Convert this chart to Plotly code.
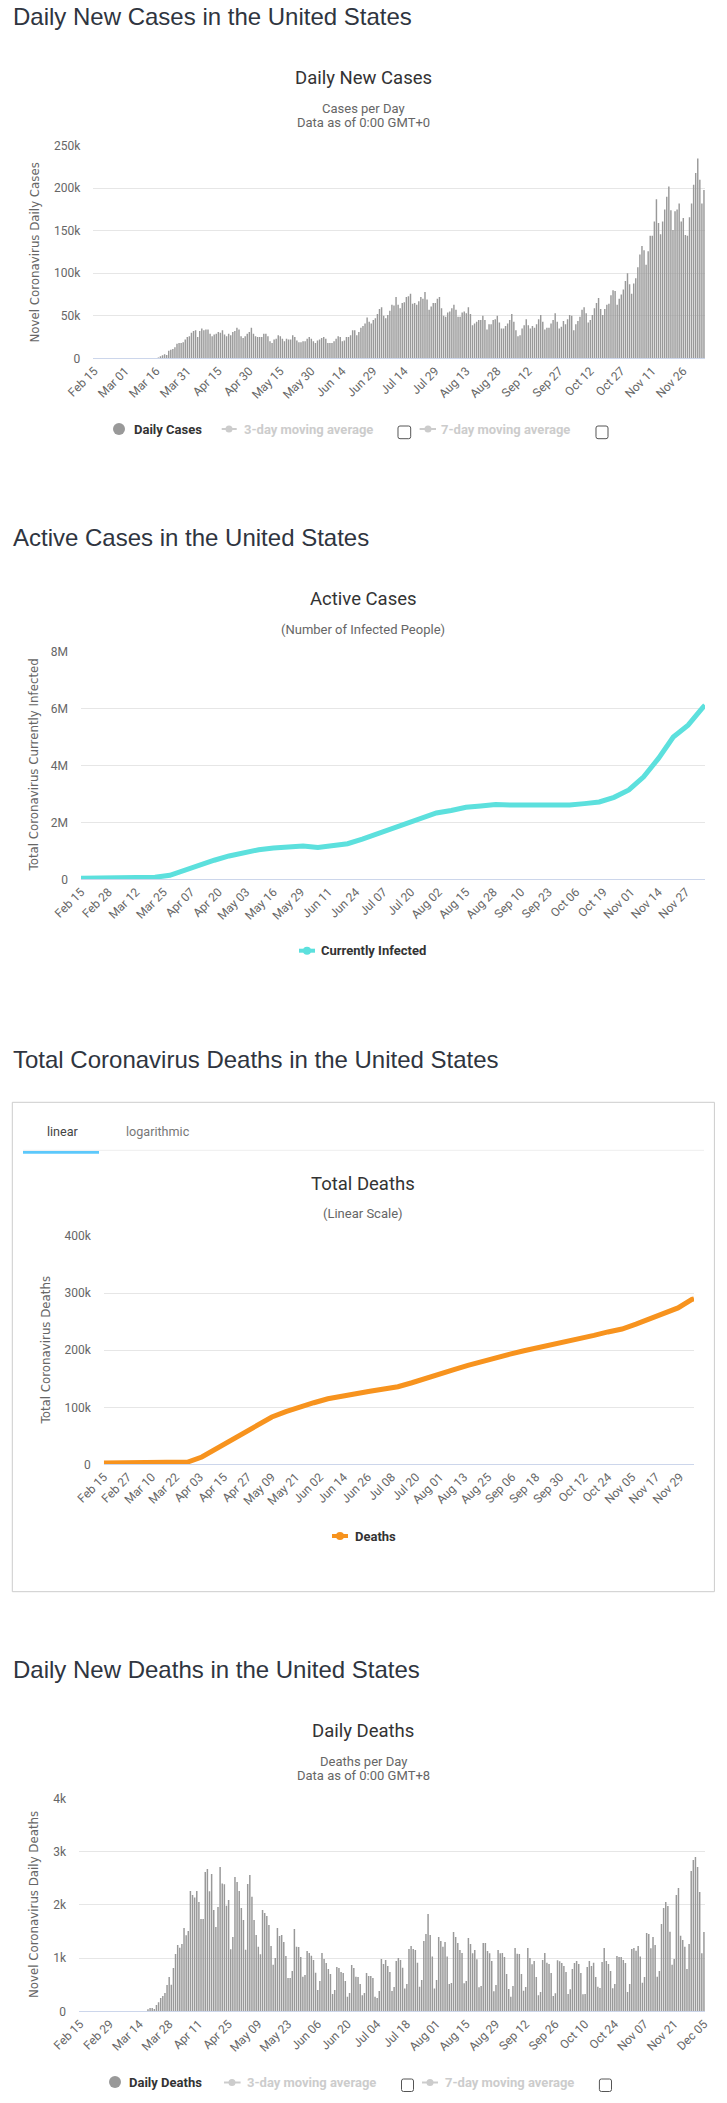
import pandas as pd

import plotly.graph_objects as go

WIDTH = 727
HEIGHT = 2103
START = "2020-02-15"

GRID = "#e6e6e6"
BASE = "#ccd6eb"
TICK = "#666666"
# alpha just under 1 makes plotly round the bar edges instead of widening thin bars
BAR = "rgba(153,153,153,0.999)"
MUTED = "#cccccc"
TITLE = "#333333"
HEAD = "#2f3540"
TURQ = "#5ce0dd"
ORANGE = "#f7931e"
TAB = "#5cc8fb"

# daily new cases, thousands, one value per day from Feb 15
daily_cases = [0] * 31 + [
    1, 2.3, 3.5, 4.7, 4, 9, 10, 11, 13, 17,
    18, 18, 19, 22, 25, 26, 30, 32, 33, 25,
    32, 35, 33, 34, 34, 29, 26, 28, 29, 31,
    30, 33, 28, 26, 29, 27, 31, 32, 36, 34,
    26, 24, 26, 29, 31, 36, 29, 26, 25, 25,
    25, 29, 29, 26, 20, 18, 22, 23, 27, 26,
    23, 20, 23, 22, 22, 27, 25, 21, 19, 19,
    20, 20, 23, 25, 23, 20, 18, 21, 22, 24,
    25, 23, 18, 18, 18, 20, 23, 26, 25, 20,
    21, 25, 25, 27, 33, 33, 27, 31, 36, 38,
    41, 48, 43, 41, 45, 47, 52, 58, 60, 50,
    47, 51, 56, 63, 62,
    72, 63, 59, 65, 66, 72, 73, 76, 64, 65,
    63, 67, 72, 70, 78, 69, 57, 61, 65, 65,
    70, 72, 59, 50, 49, 54, 55, 59, 63, 57,
    49, 49, 54, 55, 53, 60, 52, 39, 41, 43,
    45, 45, 50, 45, 34, 40, 40, 45, 46, 50,
    42, 35, 35, 38, 41, 45, 52, 43, 33, 26,
    27, 35, 39, 46, 39, 35, 38, 36, 40, 46,
    51, 43, 34, 36, 36, 41, 45, 53, 43, 35,
    37, 44, 40, 46, 51, 50, 33, 40, 44, 49,
    57, 60, 53, 42, 45, 51, 59, 65, 71, 58,
    51, 58, 63, 64, 74, 80, 79, 63, 70, 75,
    81, 91, 100, 87, 76, 88, 94, 107, 122, 132,
    127, 110, 126, 144, 144, 161, 187, 159, 146, 161,
    175, 190, 202, 174, 151, 173, 175, 182, 161,
    165, 145, 144, 166, 182, 204, 218, 235, 210, 182, 198,
]

# daily deaths, one value per day from Feb 15
daily_deaths = [0] * 32 + [
    38, 63, 63, 44, 119, 170, 250, 288,
    344, 494, 645, 500, 813, 1076, 1245, 1195, 1264, 1564,
    1430, 1508, 2260, 2186, 2135, 2260, 2053, 1734, 1734, 2616,
    2673, 2254, 2578, 1903, 1584, 1959, 2710, 2398, 2385, 1984,
    2091, 1164, 1396, 2523, 2429, 2260, 1941, 1715, 1158, 2391,
    2560, 2153, 1715, 1434, 1214, 1070, 1903, 1847, 1790, 1621,
    1227, 876, 1002, 1565, 1415, 1434, 1302, 1039, 626, 626,
    757, 1546, 1214, 1208, 1020, 651, 682, 1133, 1095, 1045,
    964, 726, 400, 570, 1095, 983, 908, 795, 701, 325,
    400, 832, 814, 739, 720, 570, 275, 344, 870, 814,
    651, 645, 513, 300, 344, 720, 664, 664, 626, 275,
    250, 382, 983, 889, 964, 851, 739, 382, 457, 945, 1002,
    964, 820, 426, 513, 1171, 1227, 1171, 1152, 914, 463,
    588, 1321, 1452, 1828, 1434, 1027, 426, 588, 1396, 1321,
    1214, 1302, 1027, 513, 532, 1490, 1396, 1283, 1152, 1095,
    526, 570, 1377, 1264, 1089, 1152, 977, 450, 476, 1283,
    1283, 1133, 1089, 945, 376, 495, 1152, 1089, 1095, 1020,
    701, 419, 275, 476, 1189, 1083, 1077, 701, 388, 457,
    1189, 1002, 883, 945, 645, 300, 363, 964, 1095, 914,
    889, 720, 288, 338, 958, 939, 908, 851, 739, 325,
    413, 795, 908, 945, 889, 720, 319, 325, 832, 945,
    851, 914, 645, 463, 438, 926, 1189, 945, 889, 757,
    432, 513, 1039, 1020, 1020, 964, 908, 363, 513, 1171,
    1189, 1139, 1227, 1027, 538, 645, 1471, 1452, 1183, 1396,
    1246, 651, 757, 1640, 1941, 2053, 1978, 1496, 876, 983,
    2185, 2316, 1421, 1340, 1214, 795, 1264, 2635, 2842, 2898,
    2710, 2241, 1089, 1490,
]

# weekly readings from Feb 15, last one is Dec 06
active_cases = [
    0.04, 0.04, 0.04, 0.04, 0.04, 0.07, 0.14, 0.33, 0.52, 0.67,
    0.82, 0.95, 1.04, 1.10, 1.15, 1.17, 1.12, 1.17, 1.25, 1.41,
    1.59, 1.79, 1.98, 2.17, 2.33, 2.42, 2.53, 2.58, 2.63, 2.61,
    2.61, 2.61, 2.60, 2.61, 2.66, 2.72, 2.88, 3.14, 3.60, 4.25,
    5.00, 5.42, 6.04, 6.12,
]
total_deaths = [
    2.5, 2.5, 2.5, 2.5, 2.5, 2.5, 4, 13, 27, 43,
    57, 70, 83, 92.5, 101, 108, 115, 120, 124, 128,
    132, 136, 143, 150, 159, 166, 173.5, 180.5, 187.5, 193,
    199, 204, 210, 215, 219.5, 226, 232, 237, 245.6, 254.5,
    265, 274, 289, 290,
]

cases_ticks = [0, 50, 100, 150, 200, 250]
cases_ticktext = ["0", "50k", "100k", "150k", "200k", "250k"]
active_ticks = [0, 2, 4, 6, 8]
active_ticktext = ["0", "2M", "4M", "6M", "8M"]
total_ticks = [0, 100, 200, 300, 400]
total_ticktext = ["0", "100k", "200k", "300k", "400k"]
deaths_ticks = [0, 1000, 2000, 3000, 4000]
deaths_ticktext = ["0", "1k", "2k", "3k", "4k"]

cases_days = pd.date_range(START, periods=len(daily_cases)).strftime("%b %d").tolist()
deaths_days = pd.date_range(START, periods=len(daily_deaths)).strftime("%b %d").tolist()
weekly_days = pd.date_range(START, periods=43, freq="7D").strftime("%Y-%m-%d").tolist() + ["2020-12-06"]


def px(x):
    return x / WIDTH


def py(y):
    return 1 - y / HEIGHT


def x_axis(left, right, anchor, **kwargs):
    return dict(domain=[px(left), px(right)], anchor=anchor, automargin=False, showgrid=False, zeroline=False,
                showline=True, linecolor=BASE, ticks="", tickangle=-45,
                tickfont=dict(family="Roboto", size=12, color=TICK), **kwargs)


def y_axis(top, bottom, anchor, ymax, ticks, ticktext):
    return dict(domain=[py(bottom), py(top)], anchor=anchor, automargin=False, range=[0, ymax], showgrid=True,
                gridcolor=GRID, zeroline=False, showline=False, ticks="", tickmode="array",
                tickvals=ticks, ticktext=ticktext, ticklabelstandoff=12,
                tickfont=dict(family="Roboto", size=12, color=TICK))


def text(x, y, s, size=13, color=TICK, family="Roboto", anchor="center", bold=False, angle=0):
    return dict(xref="paper", yref="paper", x=px(x), y=py(y), xanchor=anchor, yanchor="middle",
                text="<b>%s</b>" % s if bold else s, showarrow=False, textangle=angle,
                font=dict(family=family, size=size, color=color))


def rule(x0, y0, x1, y1, color, width=1):
    return dict(type="line", xref="paper", yref="paper", x0=px(x0), y0=py(y0), x1=px(x1), y1=py(y1),
                line=dict(color=color, width=width))


def dot(x, y, r, color):
    return dict(type="circle", xref="paper", yref="paper", x0=px(x - r), x1=px(x + r),
                y0=py(y - r), y1=py(y + r), fillcolor=color, line=dict(width=0))


def box(x0, y0, x1, y1, color, width=1, fill=None):
    return dict(type="rect", xref="paper", yref="paper", x0=px(x0), x1=px(x1), y0=py(y0), y1=py(y1),
                fillcolor=fill, line=dict(color=color, width=width))


def checkbox(x0, y0, x1, y1, r=2):
    # the unticked boxes next to the moving averages, rounded corners
    l, rt, t, b = px(x0), px(x1), py(y0), py(y1)
    rx, ry = r / WIDTH, r / HEIGHT
    path = "M %f %f L %f %f Q %f %f %f %f L %f %f Q %f %f %f %f L %f %f Q %f %f %f %f L %f %f Q %f %f %f %f Z" % (
        l + rx, t, rt - rx, t, rt, t, rt, t - ry, rt, b + ry, rt, b, rt - rx, b,
        l + rx, b, l, b, l, b + ry, l, t - ry, l, t, l + rx, t)
    return dict(type="path", xref="paper", yref="paper", path=path, line=dict(color="#555555", width=1))


annotations = [
    text(11, 16.7, "Daily New Cases in the United States", 24, HEAD, "Liberation Sans", "left"),
    text(363, 77.7, "Daily New Cases", 18.5, TITLE),
    text(363, 108, "Cases per Day"),
    text(363, 122.7, "Data as of 0:00 GMT+0"),
    text(34, 252.5, "Novel Coronavirus Daily Cases", 11.8, TICK, "DejaVu Sans", angle=-90),
    text(132, 429.5, "Daily Cases", 13, TITLE, bold=True, anchor="left"),
    text(242, 429.5, "3-day moving average", 13, MUTED, bold=True, anchor="left"),
    text(439.4, 429.5, "7-day moving average", 13, MUTED, bold=True, anchor="left"),

    text(11, 537.3, "Active Cases in the United States", 24, HEAD, "Liberation Sans", "left"),
    text(363, 598.7, "Active Cases", 18.5, TITLE),
    text(363, 629, "(Number of Infected People)"),
    text(34, 765.5, "Total Coronavirus Currently Infected", 11.8, TICK, "DejaVu Sans", angle=-90),
    text(319, 950.7, "Currently Infected", 13, TITLE, bold=True, anchor="left"),

    text(11, 1059, "Total Coronavirus Deaths in the United States", 24, HEAD, "Liberation Sans", "left"),
    text(63, 1131.3, "linear", 12.6, "#444444"),
    text(158, 1131.3, "logarithmic", 12.6, "#777777"),
    text(363, 1183.6, "Total Deaths", 18.5, TITLE),
    text(363, 1213.8, "(Linear Scale)"),
    text(45, 1350.5, "Total Coronavirus Deaths", 11.8, TICK, "DejaVu Sans", angle=-90),
    text(352.7, 1536, "Deaths", 13, TITLE, bold=True, anchor="left"),

    text(11, 1669, "Daily New Deaths in the United States", 24, HEAD, "Liberation Sans", "left"),
    text(363, 1730.7, "Daily Deaths", 18.5, TITLE),
    text(363, 1761, "Deaths per Day"),
    text(363, 1775.7, "Data as of 0:00 GMT+8"),
    text(34, 1905, "Novel Coronavirus Daily Deaths", 11.8, TICK, "DejaVu Sans", angle=-90),
    text(127.4, 2082.7, "Daily Deaths", 13, TITLE, bold=True, anchor="left"),
    text(245, 2082.7, "3-day moving average", 13, MUTED, bold=True, anchor="left"),
    text(442.7, 2082.7, "7-day moving average", 13, MUTED, bold=True, anchor="left"),
]

shapes = [
    # card and tabs around the total deaths chart
    box(12.3, 1102.3, 714.4, 1591.7, "#cccccc"),
    rule(23, 1150.3, 704, 1150.3, "#eeeeee"),
    box(23, 1151, 99, 1153.7, TAB, 0, TAB),
    # legend keys
    dot(119, 429, 6, BAR),
    rule(221.7, 429, 236.7, 429, MUTED, 2), dot(229, 429, 3.5, MUTED),
    checkbox(398, 426, 410.7, 438.7),
    rule(419.6, 429, 436, 429, MUTED, 2), dot(428, 429, 3.5, MUTED),
    checkbox(596, 426, 608, 438.7),
    rule(299, 950.7, 315, 950.7, TURQ, 4), dot(307, 950.7, 4, TURQ),
    rule(332, 1536, 348, 1536, ORANGE, 4), dot(340, 1536, 4, ORANGE),
    dot(115, 2082, 6, BAR),
    rule(224, 2082.5, 240.6, 2082.5, MUTED, 2), dot(232, 2082.5, 3.5, MUTED),
    checkbox(401.5, 2079, 413.5, 2091.5),
    rule(422, 2082.5, 438, 2082.5, MUTED, 2), dot(430, 2082.5, 3.5, MUTED),
    checkbox(599.4, 2079, 611.5, 2091.5),
]

bar_marker = dict(color=BAR, line_width=0)

fig = go.Figure()
fig.add_trace(go.Bar(x=cases_days, y=daily_cases, marker=bar_marker, xaxis="x", yaxis="y"))
fig.add_trace(go.Scatter(x=weekly_days, y=active_cases, mode="lines", line=dict(color=TURQ, width=5),
                         cliponaxis=False, xaxis="x2", yaxis="y2"))
fig.add_trace(go.Scatter(x=weekly_days, y=total_deaths, mode="lines", line=dict(color=ORANGE, width=5),
                         cliponaxis=False, xaxis="x3", yaxis="y3"))
fig.add_trace(go.Bar(x=deaths_days, y=daily_deaths, marker=bar_marker, xaxis="x4", yaxis="y4"))

fig.update_layout(
    width=WIDTH,
    height=HEIGHT,
    margin=dict(l=0, r=0, t=0, b=0),
    paper_bgcolor="white",
    plot_bgcolor="white",
    showlegend=False,
    bargap=0.3,
    annotations=annotations,
    shapes=shapes,
    xaxis=x_axis(93.3, 705, "y", type="category", range=[-0.5, len(daily_cases) - 0.5], tickmode="array",
                 tickvals=cases_days[::15]),
    yaxis=y_axis(145.7, 358.3, "x", 250, cases_ticks, cases_ticktext),
    xaxis2=x_axis(81, 705, "y2", type="date", range=["2020-02-15", "2020-12-06"], tickformat="%b %d",
                  tick0="2020-02-15", dtick=13 * 86400000),
    yaxis2=y_axis(651.7, 879.3, "x2", 8, active_ticks, active_ticktext),
    xaxis3=x_axis(103.8, 694, "y3", type="date", range=["2020-02-15", "2020-12-06"], tickformat="%b %d",
                  tick0="2020-02-15", dtick=12 * 86400000),
    yaxis3=y_axis(1236, 1464.4, "x3", 400, total_ticks, total_ticktext),
    xaxis4=x_axis(79, 705, "y4", type="category", range=[-0.5, len(daily_deaths) - 0.5], tickmode="array",
                  tickvals=deaths_days[::14]),
    yaxis4=y_axis(1798.3, 2011.3, "x4", 4000, deaths_ticks, deaths_ticktext),
)

fig.write_html("out.html", config={"displayModeBar": False}, post_script="document.body.style.margin='0';")
